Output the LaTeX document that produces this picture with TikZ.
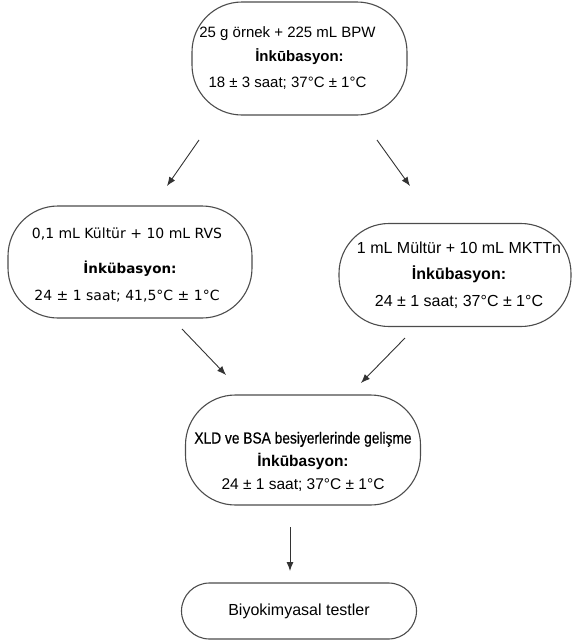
\documentclass[tikz,border=0pt]{standalone}
\usepackage{fontspec}
\setmainfont{Liberation Sans}
\newfontfamily\verdanafont{DejaVu Sans}
\newfontfamily\narrowfont[FakeStretch=0.86,FakeBold=0.6]{Liberation Sans}
\usetikzlibrary{arrows.meta,positioning}
\tikzset{
flow_box/.style={
	% The shape:
	rectangle,
	rounded corners=#1,
	% The size:
	inner sep=0pt,
	% The border:
	line width=1.1pt,
	draw=black!70,
	% Text
	align=center,
	text=black
},
flow_box/.default=50pt,
flow_arrow/.style={-{Latex[length=9pt,width=7pt]}, line width=0.9pt, draw=black!80}
}
\begin{document}
\begin{tikzpicture}[x=1pt,y=-1pt]
	\useasboundingbox (0,0) rectangle (573,641);

	\node [flow_box, minimum width=215pt, minimum height=113pt,
		font=\fontsize{15}{24}\selectfont] (sample) at (299.5,58.5)
		{25 g örnek + 225 mL BPW\hspace*{24pt}\\
		 \textbf{İnkūbasyon:}\hspace*{24pt}\\[2pt]
		 18 ± 3 saat; 37°C ± 1°C\hspace*{24pt}};

	\node [flow_box, minimum width=244pt, minimum height=112pt,
		font=\verdanafont\fontsize{14}{27}\selectfont] (rvs) at (130,262)
		{\rule{0pt}{17pt}0,1 mL Kültür + 10 mL RVS\hspace*{6pt}\\[8pt]
		 \fontsize{13.5}{27}\selectfont\textbf{İnkübasyon:}\hspace*{6pt}\\
		 24 ± 1 saat; 41,5°C ± 1°C\hspace*{6pt}};

	\node [flow_box, minimum width=232pt, minimum height=103pt,
		font=\fontsize{16}{26.5}\selectfont] (mktt) at (455,275)
		{\hspace*{8pt}1 mL Mültür + 10 mL MKTTn\\
		 \hspace*{8pt}\textbf{İnkūbasyon:}\\
		 \hspace*{8pt}24 ± 1 saat; 37°C ± 1°C};

	\node [flow_box, minimum width=235pt, minimum height=110pt,
		font=\fontsize{15.5}{23}\selectfont] (xld) at (303,450)
		{\rule{0pt}{35pt}\narrowfont\fontsize{16}{23}\selectfont XLD ve BSA besiyerlerinde gelişme\\
		 \textbf{İnkūbasyon:}\\
		 24 ± 1 saat; 37°C ± 1°C};

	\node [flow_box=28pt, minimum width=235pt, minimum height=56pt,
		font=\fontsize{16}{20}\selectfont] (bio) at (299,611)
		{Biyokimyasal testler};

	% arrow ends
	\coordinate (a1s) at (199,140);
	\coordinate (a1e) at (167,186);
	\coordinate (a2s) at (377,140);
	\coordinate (a2e) at (410,186);
	\coordinate (a3s) at (182,329);
	\coordinate (a3e) at (226,375);
	\coordinate (a4s) at (405,338);
	\coordinate (a4e) at (361,383);
	\coordinate (a5s) at (290,527);
	\coordinate (a5e) at (290,571);

	\draw [flow_arrow] (a1s) -- (a1e);
	\draw [flow_arrow] (a2s) -- (a2e);
	\draw [flow_arrow] (a3s) -- (a3e);
	\draw [flow_arrow] (a4s) -- (a4e);
	\draw [flow_arrow] (a5s) -- (a5e);
\end{tikzpicture}
\end{document}
